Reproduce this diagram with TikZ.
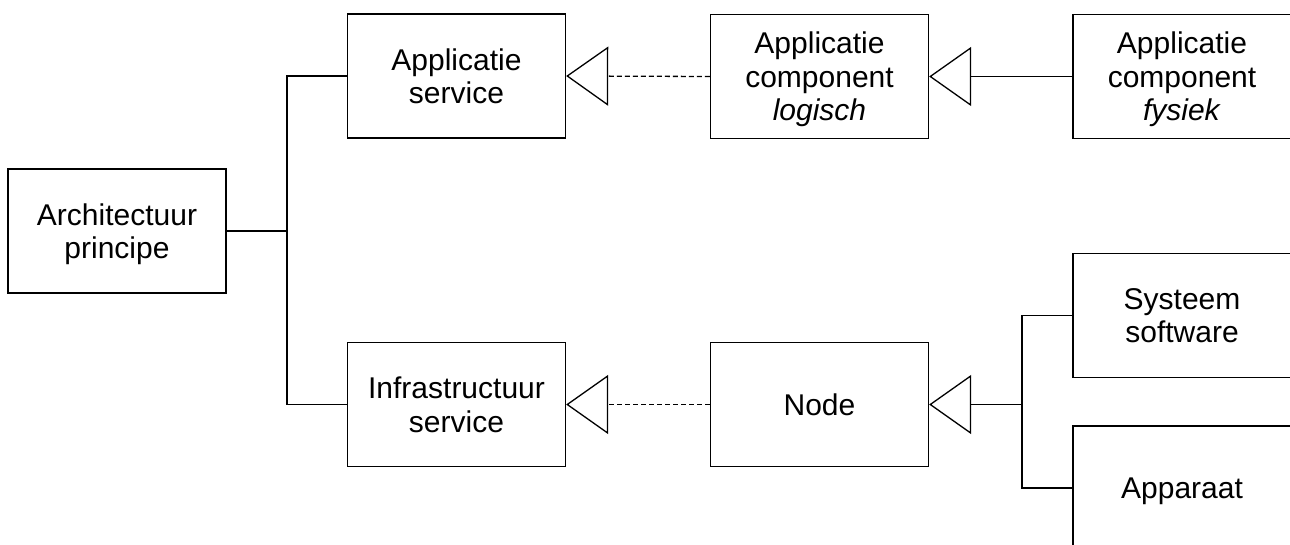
\documentclass[tikz,border=0pt]{standalone}
\usepackage{fontspec}
\setmainfont{Liberation Sans}
\usetikzlibrary{arrows.meta}
\tikzset{
  box/.style={draw=black, line width=1.3pt, minimum width=218pt, minimum height=124pt, inner sep=0pt, align=center, text depth=0pt, font=\fontsize{30}{33.5}\selectfont},
  conn/.style={line width=1.3pt, draw=black},
  gen/.style={conn, -{Triangle[open, length=42pt, width=59pt, line width=1.3pt]}},
  dash line/.style={dash pattern=on 5pt off 3pt}
}
\begin{document}
\begin{tikzpicture}[x=1pt, y=-1pt]
\useasboundingbox (0,0) rectangle (1290,545);
\clip (0,0) rectangle (1290,545);
\node[box] (arch)   at (117,231)    {Architectuur\\principe};
\node[box] (appsvc) at (456.5,76)   {Applicatie\\service};
\node[box] (applog) at (819.5,76.5) {Applicatie\\component\\\textit{logisch}};
\node[box] (appfys) at (1182,76.5)  {Applicatie\\component\\\textit{fysiek}};
\node[box] (infra)  at (456.5,404.5){Infrastructuur\\service};
\node[box] (nodeb)  at (819.5,404.5){Node};
\node[box] (syssw)  at (1182,315.5) {Systeem\\software};
\node[box] (appar)  at (1182,488)   {Apparaat};
\coordinate (j1) at (287,231);
\coordinate (j2) at (1022,404.5);
\draw[conn] (arch.east) -- (j1);
\draw[conn] (appsvc.west) -| (j1) |- (infra.west);
\draw[gen, dash line] (applog.west) -- (appsvc.east);
\draw[gen] (appfys.west) -- (applog.east);
\draw[gen, dash line] (nodeb.west) -- (infra.east);
\draw[gen] (j2) -- (nodeb.east);
\draw[conn] (syssw.west) -| (j2) |- (appar.west);
\end{tikzpicture}
\end{document}
